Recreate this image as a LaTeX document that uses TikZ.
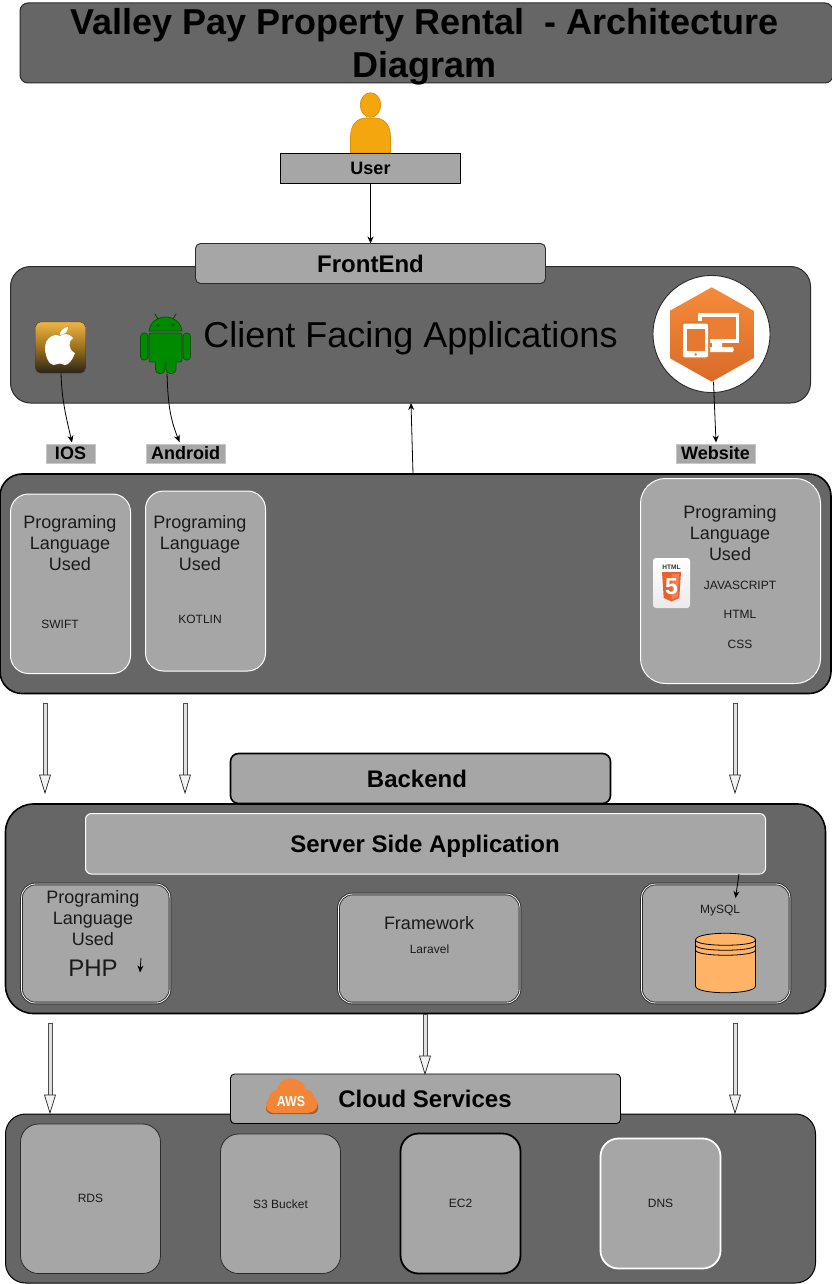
\documentclass[tikz,border=0pt]{standalone}
\usepackage{fontspec}
\setmainfont{Liberation Sans}
\usetikzlibrary{arrows.meta,shapes.geometric,calc}
\definecolor{panelgray}{HTML}{666666}
\definecolor{boxgray}{HTML}{A6A6A6}
\definecolor{edgedark}{HTML}{2B2B2B}
\definecolor{txt}{HTML}{1A1A1A}
\definecolor{usero}{HTML}{F3A60D}
\definecolor{useredge}{HTML}{D98F0A}
\definecolor{andg}{HTML}{008A00}
\definecolor{andedge}{HTML}{005700}
\definecolor{awso}{HTML}{F58536}
\definecolor{dbo}{HTML}{FFB366}
\definecolor{htmlo}{HTML}{E9622B}
\definecolor{apA}{HTML}{2A241A}\definecolor{apB}{HTML}{9C701C}\definecolor{apC}{HTML}{B88A2A}\definecolor{apD}{HTML}{EDB545}
\definecolor{hxA}{HTML}{D96B28}\definecolor{hxB}{HTML}{F58B3A}
\tikzset{
 x=1pt,y=-1pt,
 box/.style={rectangle,inner sep=0pt,outer sep=0pt,align=center,text=black},
 panel/.style={box,fill=panelgray,draw=edgedark,line width=1pt},
 panelb/.style={box,fill=panelgray,draw=black,line width=1.6pt},
 head/.style={box,fill=boxgray,draw=edgedark,line width=.9pt},
 soft/.style={box,fill=boxgray,draw=white,line width=1pt},
 tag/.style={box,fill=boxgray,draw=white!78!black,line width=1pt},
 dbl/.style={box,fill=boxgray,draw=edgedark,double=white,double distance=.8pt,line width=.9pt},
 lab/.style={inner sep=0pt,outer sep=0pt,align=center,text=txt},
 big/.style={lab,font=\fontsize{18}{21}\selectfont},
 small/.style={lab,font=\fontsize{12}{14}\selectfont},
 arr/.style={draw=black,line width=.8pt,-{Stealth[length=7pt,width=6pt]}},
 hshaft/.style={fill=black!12,draw=black!70,line width=.7pt},
 hhead/.style={fill=white!95!black,draw=black!85,line width=.7pt,line join=miter},
}
\newcommand\rb[7]{%
 \pgfmathsetmacro\rbw{#4-(#2)}\pgfmathsetmacro\rbh{#5-(#3)}%
 \pgfmathsetmacro\rbx{(#2+#4)/2}\pgfmathsetmacro\rby{(#3+#5)/2}%
 \node[#6,minimum width=\rbw pt,minimum height=\rbh pt] (#1) at (\rbx,\rby) {#7};}
% hollow down arrow between two named coordinates
\newcommand\holarrow[2]{%
 \draw[hshaft] ($(#1)+(-2,0)$) rectangle ($(#2)+(2,-18)$);
 \draw[hhead] ($(#2)+(-5.5,-18)$) -- (#2) -- ($(#2)+(5.5,-18)$) -- cycle;}
\begin{document}
\begin{tikzpicture}
\useasboundingbox (0,0) rectangle (831,1284);
\fill[white] (0,0) rectangle (831,1284);

% Title
\rb{title}{20}{3}{833}{83}{panel,rounded corners=8pt}{}
\node[lab,text=black,font=\fontsize{36}{43}\selectfont\bfseries] (titlet) at (424.5,47) {Valley Pay Property Rental\ \ - Architecture\\Diagram};

% User
\filldraw[fill=usero,draw=useredge,line width=.7pt] (350.5,153) -- (350.5,137) .. controls (350.5,124) and (358,118) .. (366,118) -- (375,118) .. controls (383,118) and (390.5,124) .. (390.5,137) -- (390.5,153) -- cycle;
\node[ellipse,fill=usero,draw=useredge,line width=.7pt,minimum width=20.5pt,minimum height=24.5pt,inner sep=0pt] (person) at (370.5,105) {};
\rb{user}{280.5}{153.5}{460.5}{183.5}{head,draw=black,font=\fontsize{18}{21}\selectfont\bfseries}{User}

% Front end
\rb{client}{10.5}{266.5}{810.5}{403}{panel,rounded corners=20pt}{}
\rb{front}{195.5}{243.5}{545.5}{283.5}{head,rounded corners=5pt,font=\fontsize{24}{28}\selectfont\bfseries}{FrontEnd}
\draw[arr] (user.south) -- (front.north -| user.south);
\node[lab,text=black,font=\fontsize{36}{42}\selectfont] (cfa) at (410.5,338) {Client Facing Applications};

% Apple
\node[rectangle,rounded corners=5pt,minimum width=50pt,minimum height=51pt,inner sep=0pt,outer sep=0pt,top color=apD,bottom color=apA,middle color=apB,draw=black!60!brown,line width=.4pt] (apple) at (60.5,347.5) {};
\fill[white] (60,336) .. controls (64,333.5) and (69,333) .. (73,338) .. controls (68,341) and (68,350) .. (75,353) .. controls (73,359) and (69,365) .. (65,365) .. controls (62,365) and (62,363.5) .. (59.5,363.5) .. controls (57,363.5) and (56,365) .. (53.5,365) .. controls (49,365) and (45,356) .. (45,348) .. controls (45,338) and (54,333) .. (60,336) -- cycle;
\fill[white] (60,335) .. controls (60,331) and (63,328) .. (68,327) .. controls (68,331) and (65,335) .. (60,335) -- cycle;

% Android
\begin{scope}[line width=.7pt]
\filldraw[fill=andg,draw=andedge] (149,331) .. controls (150,322) and (158,317) .. (165.5,317) .. controls (173,317) and (181,322) .. (182,331) -- cycle;
\filldraw[fill=andg,draw=andedge,rounded corners=2pt] (149,333) -- (182,333) -- (182,362) -- (149,362) -- cycle;
\filldraw[fill=andg,draw=andedge,rounded corners=3.5pt] (140.5,333) rectangle (148,360);
\filldraw[fill=andg,draw=andedge,rounded corners=3.5pt] (183,333) rectangle (190.5,360);
\filldraw[fill=andg,draw=andedge,rounded corners=4pt] (155.5,358) rectangle (165,373.5);
\filldraw[fill=andg,draw=andedge,rounded corners=4pt] (166,358) rectangle (176,373.5);
\fill[andg] (156,355) rectangle (175,362);
\draw[andedge,line width=1.1pt,line cap=round] (155,314) -- (158,319) (176,314) -- (173,319);
\end{scope}
\draw[andedge,line width=.7pt] (158,325) circle (1.3pt) (173,325) circle (1.3pt);
\coordinate (andfoot) at (167,373.5);

% Website icon
\node[circle,fill=white,draw=edgedark,line width=.9pt,minimum size=117pt,inner sep=0pt,outer sep=0pt] (webc) at (711.5,334) {};
\shade[bottom color=hxA,top color=hxB] (711.7,287.3) -- (753.3,310.7) -- (753.3,358.3) -- (711.7,381.7) -- (670,358.3) -- (670,310.7) -- cycle;
\coordinate (hexb) at (713.5,381.7);
\fill[white] (697.7,313) rectangle (739.3,342.7);
\fill[hxB!60!hxA] (702,317) rectangle (735.5,338.8);
\fill[white] (712,342) rectangle (722,347) (708,347) -- (733,347) .. controls (734,348) and (734,351) .. (733,352) -- (708,352) -- cycle;
\fill[hxB!45!hxA,rounded corners=3pt] (681,321) rectangle (710,359);
\fill[white,rounded corners=2pt] (683,323.5) rectangle (708,357.3);
\fill[hxB!45!hxA] (687,328.5) rectangle (705,351);
\fill[hxB!45!hxA] (695.7,354.5) circle (1.4pt);

% Labels
\rb{iosl}{46}{444}{95}{463}{tag,font=\fontsize{18}{20}\selectfont\bfseries}{IOS}
\rb{andl}{146}{444}{225}{463}{tag,font=\fontsize{18}{20}\selectfont\bfseries}{Android}
\rb{webl}{676}{444}{755}{463}{tag,font=\fontsize{18}{20}\selectfont\bfseries}{Website}
\draw[arr] (61,373.5) to[out=-88,in=103] ($(iosl.north)+(1.5,-1.5)$);
\draw[arr] (andfoot) to[out=-88,in=112] ($(andl.north)+(-6,-2)$);
\draw[arr] (hexb) -- ($(webl.north)+(0.5,-1.5)$);

% Languages panel
\rb{lang}{0}{474}{831}{693.5}{panelb,rounded corners=22pt}{}
\coordinate (langup) at (413,474);
\draw[arr] (langup) -- (411,403);
\rb{ios}{10.5}{494}{130.5}{673.5}{soft,rounded corners=18pt}{}
\rb{andr}{145.5}{491}{265.5}{671}{soft,rounded corners=18pt}{}
\rb{web}{640.5}{478.5}{820.5}{683.5}{soft,rounded corners=25pt}{}
\node[big] (p1) at (70,543) {Programing\\Language\\Used};
\node[big] (p2) at (200,543) {Programing\\Language\\Used};
\node[big] (p3) at (730,533) {Programing\\Language\\Used};
\node[small] (swift) at (60,624) {SWIFT};
\node[small] (kotlin) at (200,619) {KOTLIN};
\node[small] (js) at (740,585) {JAVASCRIPT};
\node[small] (html) at (740,614) {HTML};
\node[small] (css) at (740,644) {CSS};

% HTML5 icon
\node[rectangle,rounded corners=3pt,top color=white,bottom color=black!8,minimum width=37pt,minimum height=50pt,inner sep=0pt] (h5) at (671.5,583) {};
\node[inner sep=0pt,font=\fontsize{6.5}{7}\selectfont\bfseries,text=black!80] (h5t) at (671.5,567.6) {HTML};
\fill[htmlo] (662,572) -- (681,572) -- (679.3,598) -- (671.5,601.5) -- (663.7,598) -- cycle;
\fill[htmlo!80!white] (671.5,574) -- (679,574) -- (677.7,597) -- (671.5,599.5) -- cycle;
\node[inner sep=0pt,font=\fontsize{23}{24}\selectfont\bfseries,text=white] (h5n) at (671.5,586.5) {5};

% Hollow arrows, top row
\coordinate (a1) at (45,703);\coordinate (a1e) at (45,793);
\coordinate (a2) at (185,703);\coordinate (a2e) at (185,793);
\coordinate (a3) at (735,703);\coordinate (a3e) at (735,793);
\holarrow{a1}{a1e}
\holarrow{a2}{a2e}
\holarrow{a3}{a3e}

% Backend
\rb{back}{230.5}{753.5}{610.5}{803.5}{box,fill=boxgray,draw=black,line width=1.6pt,rounded corners=8pt}{}
\node[lab,text=black,font=\fontsize{24}{28}\selectfont\bfseries] (backt) at (417,779) {Backend};
\rb{server}{5.5}{804}{825.5}{1013.5}{panelb,rounded corners=28pt}{}
\rb{ssa}{85.5}{813.5}{765.5}{874}{soft,rounded corners=6pt}{}
\node[lab,text=black,font=\fontsize{24}{28}\selectfont\bfseries] (ssat) at (425,846) {Server Side Application};
\rb{php}{21.5}{884}{170}{1003}{dbl,rounded corners=14pt}{}
\rb{fw}{338.5}{894}{520}{1003}{dbl,rounded corners=14pt}{}
\rb{sql}{641.5}{884}{790}{1003}{dbl,rounded corners=14pt}{}
\node[big] (p4) at (93,918) {Programing\\Language\\Used};
\node[lab,font=\fontsize{24}{28}\selectfont] (phpt) at (93,968) {PHP};
\coordinate (sa) at (141,958);\coordinate (sb) at (140,972.5);
\draw[arr] (sa) -- (sb);
\node[big] (fwt) at (429,923) {Framework};
\node[small] (lar) at (429.5,949) {Laravel};
\node[small] (mys) at (720,911) {MySQL};
\coordinate (mya) at (739,874);\coordinate (myb) at (735.5,898);
\draw[arr] (mya) -- (myb);

% Database
\begin{scope}[line width=.8pt]
\filldraw[fill=dbo,draw=black] (695.5,940) -- (695.5,986) .. controls (695.5,995) and (755.5,995) .. (755.5,986) -- (755.5,940) .. controls (755.5,931) and (695.5,931) .. (695.5,940) -- cycle;
\draw[black] (695.5,940) .. controls (695.5,947) and (755.5,947) .. (755.5,940);
\draw[black] (695.5,945) .. controls (695.5,952) and (755.5,952) .. (755.5,945);
\draw[black] (695.5,950) .. controls (695.5,957) and (755.5,957) .. (755.5,950);
\end{scope}

% Hollow arrows, lower row
\coordinate (b1) at (50,1023);\coordinate (b1e) at (50,1113);
\coordinate (b3) at (735,1023);\coordinate (b3e) at (735,1113);
\holarrow{b1}{b1e}
\holarrow{b3}{b3e}

% Cloud panel
\rb{cloudp}{5.5}{1114}{815.5}{1283}{panel,draw=black,rounded corners=20pt}{}
\rb{cloud}{230.5}{1074}{620.5}{1123.5}{head,draw=black,rounded corners=4pt}{}
\coordinate (c0) at (425,1014);\coordinate (c1) at (425,1074);
\holarrow{c0}{c1}
\node[lab,text=black,font=\fontsize{24}{28}\selectfont\bfseries] (cst) at (425,1099) {Cloud Services};

% AWS icon
\fill[awso!70!black,rounded corners=6pt] (266,1100) rectangle (318,1114);
\fill[awso] (290,1092) circle (13.5pt) (277,1098) circle (8pt) (305,1098) circle (9pt) (274,1105) circle (8pt) (309,1104) circle (8.5pt);
\fill[awso] (296,1089) circle (9pt);
\fill[awso] (274,1098) rectangle (309,1112.5);
\node[inner sep=0pt,text=white,xscale=.85,font=\fontsize{14.5}{16}\selectfont\bfseries] (awst) at (291,1101) {AWS};

\rb{rds}{20.5}{1124}{160.5}{1273.5}{box,fill=boxgray,draw=edgedark,line width=.8pt,rounded corners=18pt,font=\fontsize{12}{14}\selectfont,text=txt}{RDS}
\rb{s3}{220.5}{1134}{340.5}{1273.5}{box,fill=boxgray,draw=edgedark,line width=.8pt,rounded corners=18pt,font=\fontsize{12}{14}\selectfont,text=txt}{S3 Bucket}
\rb{ec2}{400.5}{1133.5}{520.5}{1273.5}{box,fill=boxgray,draw=black,line width=1.8pt,rounded corners=18pt,font=\fontsize{12}{14}\selectfont,text=txt}{EC2}
\rb{dns}{600.5}{1138.5}{720.5}{1268.5}{box,fill=boxgray,draw=white,line width=1.8pt,rounded corners=18pt,font=\fontsize{12}{14}\selectfont,text=txt}{DNS}
\end{tikzpicture}
\end{document}
